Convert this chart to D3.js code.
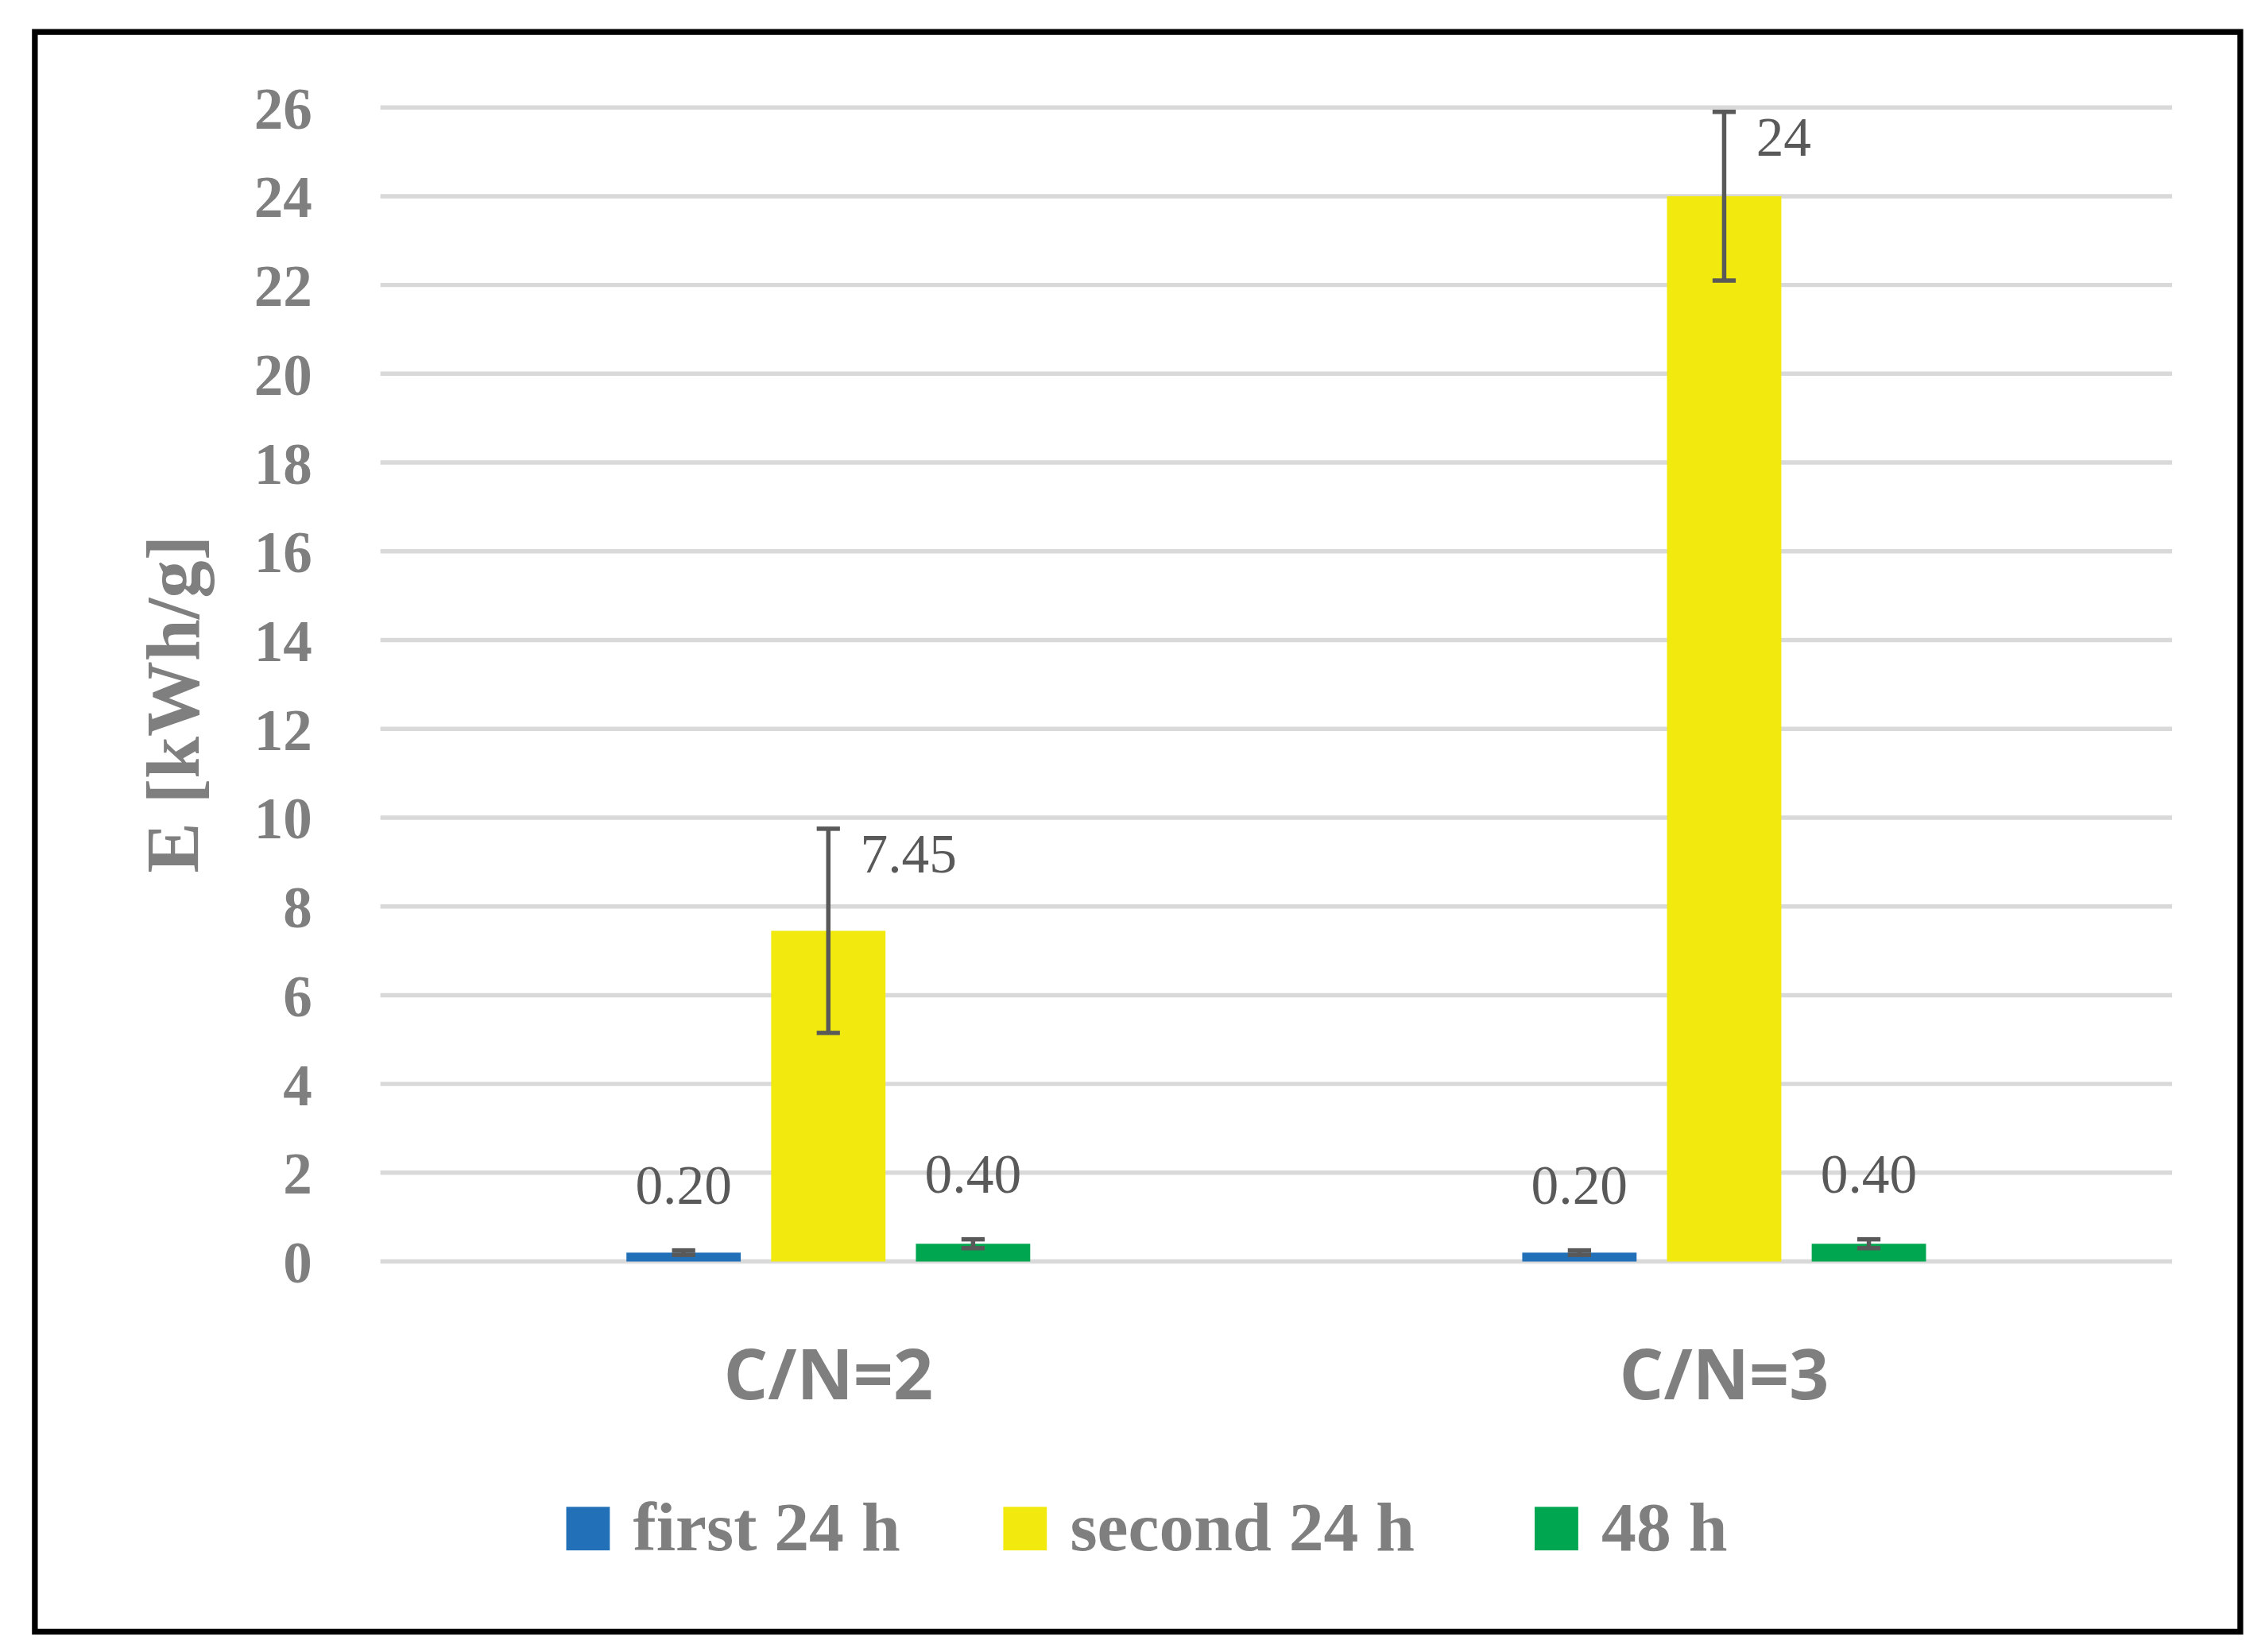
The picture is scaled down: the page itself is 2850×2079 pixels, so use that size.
<!DOCTYPE html>
<html><head><meta charset="utf-8">
<script src="https://cdn.jsdelivr.net/npm/d3@7"></script>
<style>body{margin:0;background:#fff}</style>
</head><body>
<div id="chart"></div>
<script>
// data
var categories = ["C/N=2", "C/N=3"];
var series = ["first 24 h", "second 24 h", "48 h"];
var colors = ["#2170b8", "#f2e90f", "#00a650"];
var values = [[0.20, 7.45, 0.40], [0.20, 24, 0.40]];
var errors = [[0.05, 2.3, 0.1], [0.05, 1.9, 0.1]];
var labels = [["0.20", "7.45", "0.40"], ["0.20", "24", "0.40"]];
var yTicks = d3.range(0, 27, 2);

var W = 1560, H = 1138;
var svg = d3.select("#chart").append("svg")
    .attr("width", 2850).attr("height", 2079)
    .attr("viewBox", `0 0 ${W} ${H}`);

svg.append("rect").attr("x", 24).attr("y", 22).attr("width", 1519).attr("height", 1102)
    .attr("fill", "#fff").attr("stroke", "#000").attr("stroke-width", 4);

var plotLeft = 262, plotRight = 1496, plotTop = 74, plotBottom = 869;
var serif = "'Liberation Serif', 'DejaVu Serif', serif";
var gray = "#7f7f7f";

var y = d3.scaleLinear().domain([0, 26]).range([plotBottom, plotTop]);
var x0 = d3.scaleBand().domain(categories).range([plotLeft, plotRight]);
var x1 = d3.scaleBand().domain(series).range([0, x0.bandwidth()]).paddingInner(0.21).paddingOuter(1.7);

// gridlines
svg.selectAll(".grid").data(yTicks).enter().append("line")
    .attr("x1", plotLeft).attr("x2", plotRight)
    .attr("y1", d => y(d)).attr("y2", d => y(d))
    .attr("stroke", "#d9d9d9").attr("stroke-width", 3);

// y axis labels
var yAxis = d3.axisLeft(y).tickValues(yTicks).tickSize(0).tickPadding(0);
var ga = svg.append("g").attr("transform", `translate(215,0)`).call(yAxis);
ga.select(".domain").remove();
ga.selectAll("text").attr("font-family", serif).attr("font-weight", "bold")
    .attr("font-size", 40).attr("fill", gray).attr("dy", "0.35em");

svg.append("text").attr("transform", `translate(137,485) rotate(-90)`)
    .attr("text-anchor", "middle").attr("font-family", serif).attr("font-weight", "bold")
    .attr("font-size", 52).attr("fill", gray).text("E [kWh/g]");

// bars
categories.forEach(function(c, ci) {
    var g = svg.append("g").attr("transform", `translate(${x0(c)},0)`);
    series.forEach(function(s, si) {
        var v = values[ci][si], e = errors[ci][si];
        var bx = x1(s), bw = x1.bandwidth(), cx = bx + bw / 2;
        g.append("rect").attr("x", bx).attr("width", bw)
            .attr("y", y(v)).attr("height", y(0) - y(v)).attr("fill", colors[si]);
        g.append("line").attr("x1", cx).attr("x2", cx).attr("y1", y(v + e)).attr("y2", y(v - e))
            .attr("stroke", "#595959").attr("stroke-width", 3);
        [v + e, v - e].forEach(function(t) {
            g.append("line").attr("x1", cx - 8).attr("x2", cx + 8).attr("y1", y(t)).attr("y2", y(t))
                .attr("stroke", "#595959").attr("stroke-width", 3);
        });
        var big = v > 2;
        g.append("text")
            .attr("x", big ? cx + 22 : cx)
            .attr("y", big ? y(v + e) + 30 : y(v + e) - 32)
            .attr("text-anchor", big ? "start" : "middle")
            .attr("font-family", serif).attr("font-size", 38).attr("fill", "#595959")
            .text(labels[ci][si]);
    });
    svg.append("text").attr("x", x0(c) + x0.bandwidth() / 2).attr("y", 964)
        .attr("text-anchor", "middle").attr("font-family", "'Open Sans', sans-serif")
        .attr("font-weight", "bold").attr("font-size", 48).attr("fill", gray).text(c);
});

// legend
var legX = [390, 691, 1057];
series.forEach(function(s, i) {
    svg.append("rect").attr("x", legX[i]).attr("y", 1038).attr("width", 30).attr("height", 30).attr("fill", colors[i]);
    svg.append("text").attr("x", legX[i] + 46).attr("y", 1068)
        .attr("font-family", serif).attr("font-weight", "bold").attr("font-size", 48)
        .attr("fill", gray).text(s);
});
</script>
</body></html>
